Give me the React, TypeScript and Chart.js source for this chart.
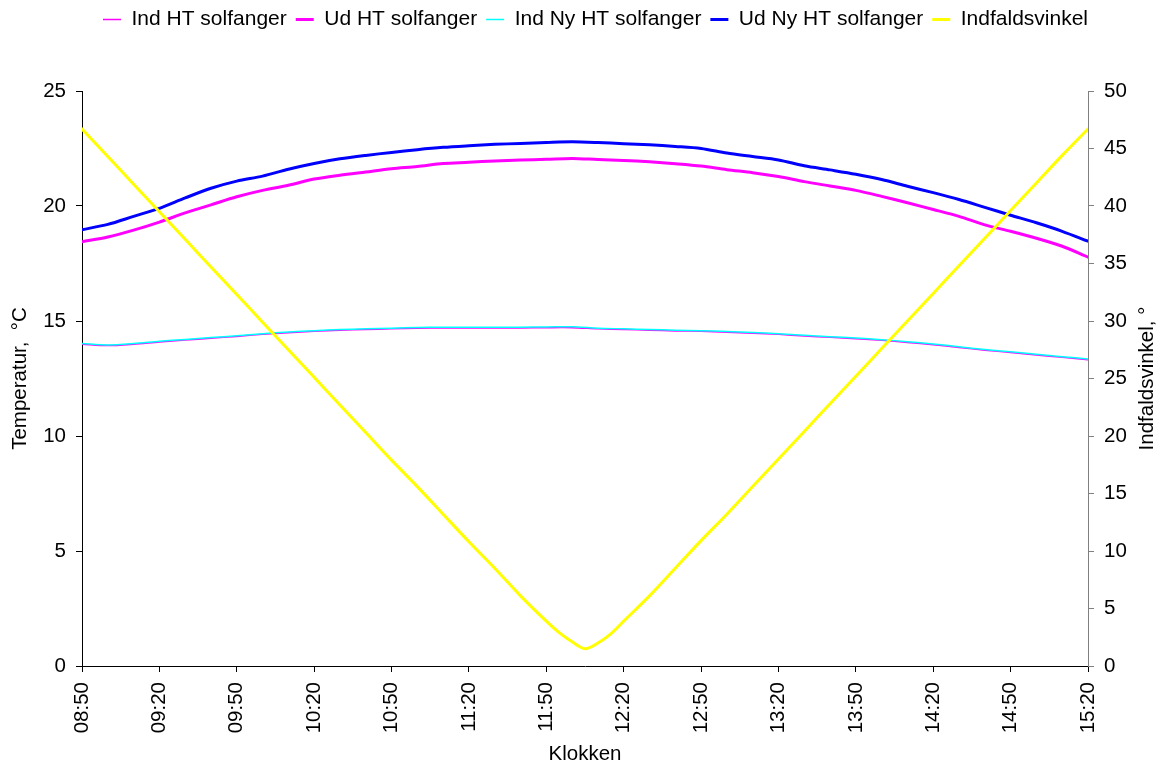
import React, { useEffect, useRef } from "react";
import { Chart, registerables } from "chart.js";

Chart.register(...registerables);

// Minutes after 08:50 for the temperature logs
const tempMinutes = [
  0, 10, 20, 30, 40, 50, 60, 70, 80, 90, 100, 110, 120, 130, 140, 150, 160, 170, 180, 190,
  200, 210, 220, 230, 240, 250, 260, 270, 280, 290, 300, 310, 320, 330, 340, 350, 360, 370, 380, 390,
];

// Inlet temperature, HT collector (°C)
const indHT = [
  13.99, 13.93, 13.99, 14.09, 14.17, 14.25, 14.33, 14.42, 14.49, 14.55, 14.6, 14.63, 14.66, 14.69, 14.7, 14.7,
  14.7, 14.7, 14.71, 14.71, 14.66, 14.63, 14.6, 14.57, 14.55, 14.51, 14.47, 14.42, 14.35, 14.29, 14.23, 14.16,
  14.07, 13.97, 13.85, 13.73, 13.63, 13.52, 13.42, 13.32,
];

// Outlet temperature, HT collector (°C)
const udHT = [
  18.45, 18.65, 18.95, 19.3, 19.7, 20.05, 20.4, 20.68, 20.9, 21.17, 21.34, 21.48, 21.62, 21.72, 21.85, 21.9,
  21.96, 22.0, 22.03, 22.07, 22.02, 21.98, 21.92, 21.84, 21.74, 21.58, 21.45, 21.28, 21.06, 20.87, 20.68, 20.42,
  20.14, 19.85, 19.55, 19.18, 18.9, 18.6, 18.25, 17.78,
];

// Inlet temperature, new HT collector (°C)
const indNyHT = [
  14.02, 13.96, 14.02, 14.12, 14.2, 14.28, 14.36, 14.45, 14.52, 14.58, 14.63, 14.66, 14.69, 14.72, 14.73, 14.73,
  14.73, 14.73, 14.74, 14.75, 14.69, 14.66, 14.63, 14.6, 14.58, 14.54, 14.5, 14.45, 14.38, 14.32, 14.26, 14.19,
  14.1, 14.0, 13.88, 13.76, 13.66, 13.55, 13.45, 13.35,
];

// Outlet temperature, new HT collector (°C)
const udNyHT = [
  18.97, 19.2, 19.55, 19.9, 20.35, 20.77, 21.08, 21.3, 21.6, 21.85, 22.05, 22.2, 22.33, 22.45, 22.55, 22.62,
  22.68, 22.72, 22.76, 22.79, 22.76, 22.71, 22.66, 22.59, 22.5, 22.3, 22.15, 22.0, 21.75, 21.57, 21.38, 21.15,
  20.86, 20.58, 20.28, 19.94, 19.6, 19.27, 18.9, 18.47,
];

// Minutes after 08:50 for the incidence angle
const angleMinutes = [
  0, 10, 20, 30, 40, 50, 60, 70, 80, 90, 100, 110, 120, 130, 140, 150, 160, 170, 180, 185, 190, 195,
  200, 205, 210, 220, 230, 240, 250, 260, 270, 280, 290, 300, 310, 320, 330, 340, 350, 360, 370, 380, 390,
];

// Incidence angle (°)
const indfaldsvinkel = [
  46.7, 44.3, 41.9, 39.5, 37.1, 34.7, 32.3, 29.9, 27.5, 25.1, 22.7, 20.3, 17.9, 15.6, 13.2, 10.8, 8.5, 6.1,
  3.9, 2.9, 2.1, 1.5, 2.0, 2.8, 3.9, 6.1, 8.5, 10.9, 13.2, 15.6, 18.0, 20.4, 22.8, 25.2, 27.6, 30.0, 32.4,
  34.8, 37.2, 39.6, 42.0, 44.4, 46.7,
];

const tickLabels = [
  "08:50", "09:20", "09:50", "10:20", "10:50", "11:20", "11:50",
  "12:20", "12:50", "13:20", "13:50", "14:20", "14:50", "15:20",
];

const W = 1159;
const H = 767;
const FONT = "'Liberation Sans', Arial, Helvetica, sans-serif";
const FS = 20.5;

const pairs = (xs: number[], ys: number[]) => xs.map((x, i) => ({ x, y: ys[i] }));

export default function App() {
  const canvasRef = useRef<HTMLCanvasElement | null>(null);

  useEffect(() => {
    document.body.style.margin = "0";
    const canvas = canvasRef.current;
    if (!canvas) return;

    Chart.defaults.font.family = FONT;
    Chart.defaults.color = "#000";

    const layoutPlugin = {
      id: "excelLayout",
      beforeInit(chart: any) {
        const legend = chart.legend;
        if (legend) {
          const origFit = legend.fit.bind(legend);
          legend.fit = function () {
            origFit();
            this.height = 91;
          };
        }
      },
      afterLayout(chart: any) {
        const legend = chart.legend;
        if (legend) {
          legend.left += 16;
          legend.right += 16;
        }
      },
      afterDraw(chart: any) {
        const { ctx, chartArea } = chart;
        ctx.save();
        ctx.translate(1147, (chartArea.top + chartArea.bottom) / 2);
        ctx.rotate(-Math.PI / 2);
        ctx.textAlign = "center";
        ctx.textBaseline = "middle";
        ctx.fillStyle = "#000";
        ctx.font = `${FS}px ${FONT}`;
        ctx.fillText("Indfaldsvinkel, °", 0, 0);
        ctx.restore();
      },
    };

    const chart = new Chart(canvas, {
      type: "line",
      data: {
        datasets: [
          {
            label: "Ind HT solfanger",
            data: pairs(tempMinutes, indHT),
            borderColor: "#FF00FF",
            backgroundColor: "#FF00FF",
            borderWidth: 1.5,
            yAxisID: "y",
            order: 5,
          },
          {
            label: "Ud HT solfanger",
            data: pairs(tempMinutes, udHT),
            borderColor: "#FF00FF",
            backgroundColor: "#FF00FF",
            borderWidth: 3,
            yAxisID: "y",
            order: 4,
          },
          {
            label: "Ind Ny HT solfanger",
            data: pairs(tempMinutes, indNyHT),
            borderColor: "#00FFFF",
            backgroundColor: "#00FFFF",
            borderWidth: 1.5,
            yAxisID: "y",
            order: 3,
          },
          {
            label: "Ud Ny HT solfanger",
            data: pairs(tempMinutes, udNyHT),
            borderColor: "#0000FF",
            backgroundColor: "#0000FF",
            borderWidth: 3,
            yAxisID: "y",
            order: 2,
          },
          {
            label: "Indfaldsvinkel",
            data: pairs(angleMinutes, indfaldsvinkel),
            borderColor: "#FFFF00",
            backgroundColor: "#FFFF00",
            borderWidth: 3,
            yAxisID: "y2",
            order: 1,
          },
        ],
      },
      options: {
        responsive: false,
        animation: false,
        events: [],
        elements: {
          point: { radius: 0 },
          line: { tension: 0.3, borderCapStyle: "round", borderJoinStyle: "round" },
        },
        layout: { padding: 0 },
        plugins: {
          tooltip: { enabled: false },
          legend: {
            position: "top",
            reverse: true,
            labels: {
              usePointStyle: true,
              pointStyle: "line",
              pointStyleWidth: 18,
              padding: 9,
              color: "#000",
              font: { size: 21, family: FONT },
            },
          },
        },
        scales: {
          x: {
            type: "linear",
            min: 0,
            max: 390,
            afterFit(scale: any) {
              scale.height = 101;
            },
            border: { color: "#000", width: 1 },
            grid: {
              drawOnChartArea: false,
              drawTicks: true,
              tickLength: 6,
              color: "#000",
              tickColor: "#000",
            },
            ticks: {
              stepSize: 30,
              autoSkip: false,
              maxRotation: 90,
              minRotation: 90,
              padding: 10,
              color: "#000",
              font: { size: FS, family: FONT },
              callback: (v: any) => tickLabels[Math.round(Number(v) / 30)] ?? "",
            },
            title: {
              display: true,
              text: "Klokken",
              color: "#000",
              font: { size: FS, family: FONT },
              padding: { top: 0, bottom: 0 },
            },
          },
          y: {
            type: "linear",
            position: "left",
            min: 0,
            max: 25,
            afterFit(scale: any) {
              scale.width = 82;
            },
            border: { color: "#000", width: 1 },
            grid: {
              drawOnChartArea: false,
              tickLength: 6,
              color: "#000",
              tickColor: "#000",
            },
            ticks: {
              stepSize: 5,
              padding: 10,
              color: "#000",
              font: { size: FS, family: FONT },
            },
            title: {
              display: true,
              text: "Temperatur,  °C",
              color: "#000",
              font: { size: FS, family: FONT },
              padding: { top: 8.5, bottom: 0 },
            },
          },
          y2: {
            type: "linear",
            position: "right",
            min: 0,
            max: 50,
            afterFit(scale: any) {
              scale.width = 71;
            },
            border: { color: "#808080", width: 1 },
            grid: {
              drawOnChartArea: false,
              tickLength: 6,
              color: "#808080",
              tickColor: "#808080",
            },
            ticks: {
              stepSize: 5,
              padding: 10,
              color: "#000",
              font: { size: FS, family: FONT },
            },
          },
        },
      },
      plugins: [layoutPlugin],
    });

    return () => chart.destroy();
  }, []);

  return (
    <div style={{ position: "absolute", left: 0, top: 0, width: W, height: H, background: "#fff" }}>
      <canvas ref={canvasRef} width={W} height={H} style={{ display: "block", width: W, height: H }} />
    </div>
  );
}
